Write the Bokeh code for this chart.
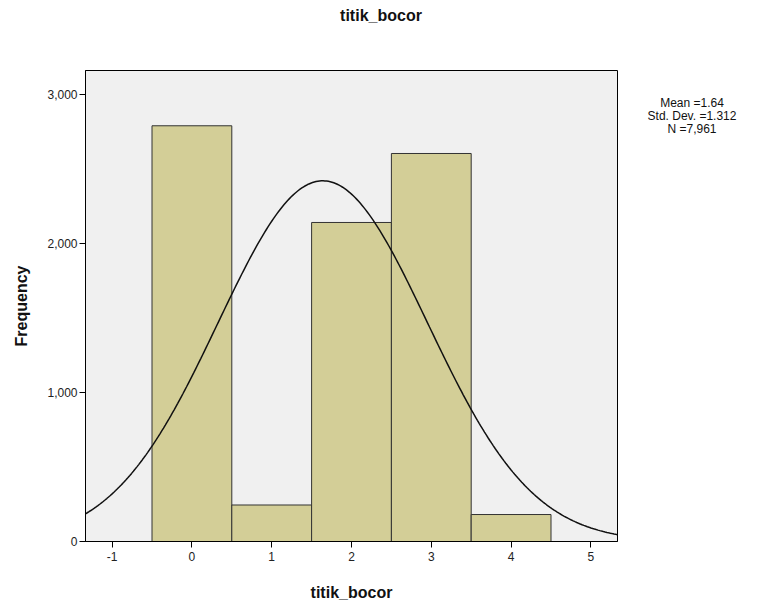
import math
from bokeh.plotting import figure
from bokeh.layouts import row, column
from bokeh.models import Range1d, FixedTicker, NumeralTickFormatter, Div
from bokeh.embed import file_html
from bokeh.resources import INLINE

# data
bin_centers = [0, 1, 2, 3, 4]
frequencies = [2790, 245, 2141, 2604, 181]
mean_val = 1.64
std_val = 1.312
n_val = 7961
x_ticks = [-1, 0, 1, 2, 3, 4, 5]
y_ticks = [0, 1000, 2000, 3000]
stats_lines = ["Mean =1.64", "Std. Dev. =1.312", "N =7,961"]
title_text = "titik_bocor"

X0, X1 = -4 / 3, 16 / 3
Y0, Y1 = 0, 3161

p = figure(width=630, height=573, output_backend="svg", toolbar_location=None,
           x_range=Range1d(X0, X1), y_range=Range1d(Y0, Y1),
           min_border_left=85, min_border_right=13, min_border_top=38, min_border_bottom=64)
p.background_fill_color = "#f0f0f0"
p.border_fill_color = "white"
p.outline_line_color = "black"
p.outline_line_width = 1
p.grid.visible = False

p.quad(left=[c - 0.5 for c in bin_centers], right=[c + 0.5 for c in bin_centers],
       bottom=0, top=frequencies, fill_color="#d3ce97", line_color="#333333", line_width=1)

steps = 300
xs = [X0 + (X1 - X0) * i / steps for i in range(steps + 1)]
ys = [n_val * 1.0 / (std_val * math.sqrt(2 * math.pi)) * math.exp(-0.5 * ((x - mean_val) / std_val) ** 2) for x in xs]
p.line(xs, ys, line_color="#111111", line_width=1.5)

for ax in (p.xaxis[0], p.yaxis[0]):
    ax.major_tick_out = 6
    ax.major_tick_in = 0
    ax.minor_tick_line_color = None
    ax.axis_line_color = "black"
    ax.major_tick_line_color = "black"
    ax.major_label_text_font = "Liberation Sans"
    ax.major_label_text_font_size = "12px"
    ax.major_label_text_color = "#222222"
    ax.axis_label_text_font = "Liberation Sans"
    ax.axis_label_text_font_style = "bold"
    ax.axis_label_text_font_size = "16px"
    ax.axis_label_text_color = "#111111"

p.xaxis.ticker = FixedTicker(ticks=x_ticks)
p.xaxis.major_label_overrides = {t: str(t) for t in x_ticks}
p.yaxis.ticker = FixedTicker(ticks=y_ticks)
p.yaxis.formatter = NumeralTickFormatter(format="0,0")
p.xaxis.axis_label = "titik_bocor"
p.yaxis.axis_label = "Frequency"
p.xaxis.major_label_standoff = 4
p.yaxis.major_label_standoff = 2
p.xaxis.axis_label_standoff = 20
p.yaxis.axis_label_standoff = 14

title_div = Div(text=title_text, width=762, height=32, margin=0,
                styles={"text-align": "center", "font-family": "'Liberation Sans', Arial, sans-serif",
                        "font-size": "16px", "font-weight": "bold", "line-height": "32px",
                        "color": "#111111", "width": "762px"})

stats_div = Div(text="<br>".join(stats_lines), width=124, height=573, margin=0,
                styles={"text-align": "center", "font-family": "'Liberation Sans', Arial, sans-serif",
                        "font-size": "12px", "line-height": "13px", "color": "#111111",
                        "padding-top": "65px", "box-sizing": "border-box"})

layout = column(title_div, row(p, stats_div, spacing=0), spacing=0)
open("out.html", "w").write(file_html(layout, INLINE))
